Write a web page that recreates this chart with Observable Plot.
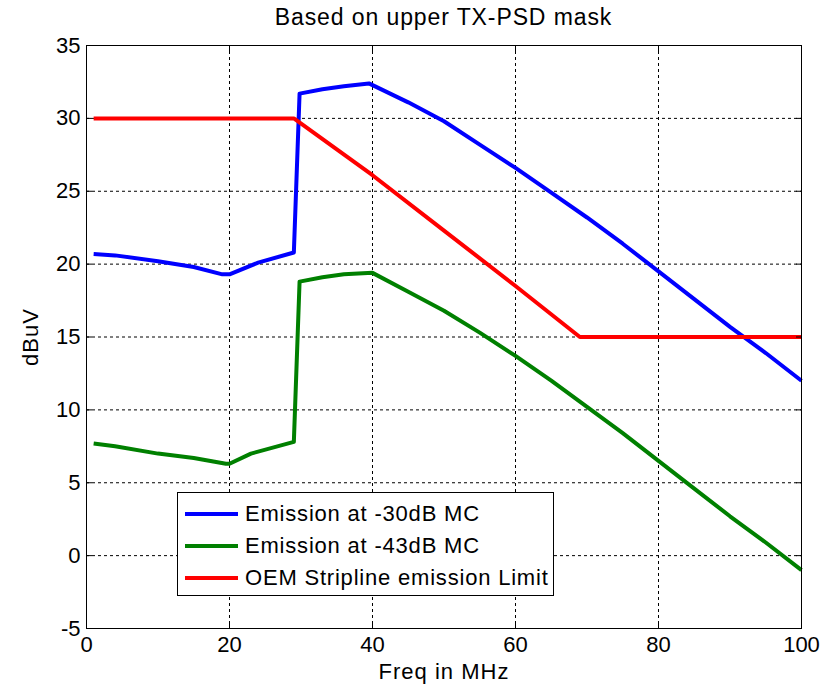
<!DOCTYPE html>
<html><head><meta charset="utf-8">
<script src="https://cdn.jsdelivr.net/npm/d3@7"></script>
<script src="https://cdn.jsdelivr.net/npm/@observablehq/plot@0.6"></script>
<style>
body{margin:0;background:#fff;font-family:"Liberation Sans",Arial,sans-serif;}
#wrap{position:relative;width:833px;height:689px;}
#title{position:absolute;left:86px;width:715px;top:4px;text-align:center;font-size:23px;letter-spacing:0.9px;color:#000;}
#legend{position:absolute;left:177px;top:492px;width:377px;height:104px;border:1px solid #000;background:#fff;box-sizing:border-box;}
.row{position:absolute;left:7px;height:30px;display:flex;align-items:center;font-size:22px;letter-spacing:0.8px;}
.sw{width:53px;height:4px;margin-right:7px;}
</style></head>
<body><div id="wrap"><div id="chart"></div><div id="title">Based on upper TX-PSD mask</div><div id="legend"></div></div>
<script>
const seriesNames = ["Emission at -30dB MC","Emission at -43dB MC","OEM Stripline emission Limit"];
const seriesColors = ["#0000ff","#008000","#ff0000"];
const blueX = [1,4,10,15,19,20,24,29,29.8,33,36,39.5,45,50,55,60,65,70,75,80,85,90,95,100];
const blueY = [20.7,20.6,20.2,19.8,19.3,19.3,20.1,20.8,31.7,32.0,32.2,32.4,31.1,29.8,28.2,26.6,24.9,23.2,21.4,19.5,17.6,15.7,13.9,12.0];
const greenX = [1,4,10,15,19.5,20,23,29,29.8,33,36,40,45,50,55,60,65,70,75,80,85,90,95,100];
const greenY = [7.7,7.5,7.0,6.7,6.3,6.3,7.0,7.8,18.8,19.1,19.3,19.4,18.1,16.8,15.3,13.7,12.0,10.2,8.4,6.5,4.6,2.7,0.9,-1.0];
const redX = [1,29,40,50,60,69,100];
const redY = [30,30,26.1,22.3,18.5,15,15];
const xTicks = [0,20,40,60,80,100];
const yTicks = [-5,0,5,10,15,20,25,30,35];

const data = [];
[[blueX,blueY],[greenX,greenY],[redX,redY]].forEach(([xs,ys],i)=>xs.forEach((x,j)=>data.push({x,y:ys[j],s:seriesNames[i]})));

const chart = Plot.plot({
  width:833,height:689,marginLeft:86,marginRight:32,marginTop:45,marginBottom:61,
  style:{fontFamily:"Liberation Sans, Arial, sans-serif",fontSize:"22px",color:"#000",background:"#fff",overflow:"visible"},
  x:{domain:[0,100],ticks:xTicks,label:null},
  y:{domain:[-5,35],ticks:yTicks,label:null},
  color:{domain:seriesNames,range:seriesColors},
  marks:[
    Plot.ruleX(xTicks.slice(1,-1),{stroke:"#000",strokeDasharray:"3,3",strokeWidth:1}),
    Plot.ruleY(yTicks.slice(1,-1),{stroke:"#000",strokeDasharray:"3,3",strokeWidth:1}),
    Plot.line(data,{x:"x",y:"y",z:"s",stroke:"s",strokeWidth:4,strokeLinejoin:"round",strokeLinecap:"butt"}),
    Plot.frame({stroke:"#000",strokeWidth:1}),
    Plot.axisX({ticks:xTicks,tickSize:-6,tickPadding:14,fontSize:22,tickFormat:d=>String(d),label:"Freq in MHz",labelAnchor:"center",labelArrow:"none",labelOffset:50}),
    Plot.axisX({anchor:"top",ticks:xTicks,tickSize:-6,tickFormat:()=>"",label:null}),
    Plot.axisY({ticks:yTicks,tickSize:-6,tickPadding:12,fontSize:22,tickFormat:d=>String(d),label:"dBuV",labelAnchor:"center",labelArrow:"none",labelOffset:64}),
    Plot.axisY({anchor:"right",ticks:yTicks,tickSize:-6,tickFormat:()=>"",label:null})
  ]
});
chart.querySelectorAll("[aria-label='x-axis label'] text, [aria-label='y-axis label'] text").forEach(t=>t.setAttribute("letter-spacing","1"));
document.getElementById("chart").appendChild(chart);
const lg = document.getElementById("legend");
seriesNames.forEach((n,i)=>{
  const r=document.createElement("div");r.className="row";r.style.top=(6+i*32)+"px";
  r.innerHTML=`<div class="sw" style="background:${seriesColors[i]}"></div><span>${n}</span>`;
  lg.appendChild(r);
});
</script></body></html>
